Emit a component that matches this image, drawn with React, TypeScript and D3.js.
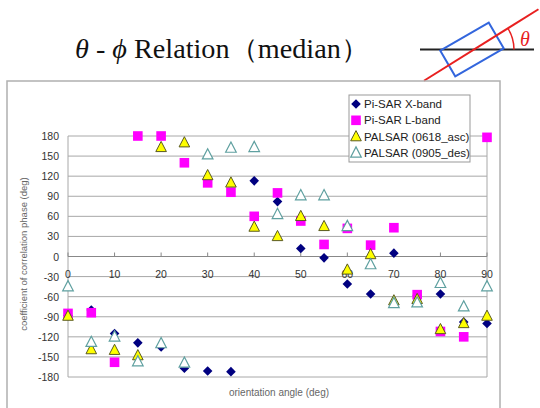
import React from 'react';
import * as d3 from 'd3';

// orientation angles (deg)
const angles = [0, 5, 10, 15, 20, 25, 30, 35, 40, 45, 50, 55, 60, 65, 70, 75, 80, 85, 90];

// median correlation phase (deg)
const piSarX = [-88, -80, -115, -129, -135, -167, -171, -172, 113, 82, 12, -2, -41, -56, 5, -58, -56, -98, -100];
const piSarL = [-85, -84, -158, 180, 180, 140, 110, 96, 60, 95, 53, 18, 42, 17, 43, -57, -112, -120, 178];
const palsarAsc = [-89, -139, -140, -148, 163, 170, 121, 110, 44, 30, 60, 45, -20, 3, -66, -64, -109, -100, -89];
const palsarDes = [-45, -128, -120, -157, -130, -159, 152, 162, 163, 63, 91, 91, 45, -12, -70, -69, -40, -75, -45];

const seriesNames = ['Pi-SAR X-band', 'Pi-SAR L-band', 'PALSAR (0618_asc)', 'PALSAR (0905_des)'];
const yTicks = [180, 150, 120, 90, 60, 30, 0, -30, -60, -90, -120, -150, -180];
const xTicks = [0, 10, 20, 30, 40, 50, 60, 70, 80, 90];

const sans = '"Liberation Sans", Arial, sans-serif';
const serif = '"Liberation Serif", "Times New Roman", serif';

const Marker = ({ kind, x, y }: { kind: number; x: number; y: number }) => {
  if (kind === 0) {
    return <path d={`M${x},${y - 4.8}L${x + 4.8},${y}L${x},${y + 4.8}L${x - 4.8},${y}Z`} fill="#000080" />;
  }
  if (kind === 1) {
    return <rect x={x - 4.8} y={y - 4.8} width={9.6} height={9.6} fill="#ff00ff" />;
  }
  const tri = `M${x},${y - 6}L${x + 5.3},${y + 4.2}L${x - 5.3},${y + 4.2}Z`;
  if (kind === 2) return <path d={tri} fill="#ffff00" stroke="#5a5a20" strokeWidth={1} />;
  return <path d={tri} fill="#ffffff" stroke="#5fa0a0" strokeWidth={1.2} />;
};

export default function App() {
  const W = 540, H = 408;
  const x = d3.scaleLinear().domain([0, 90]).range([68, 487]);
  const y = d3.scaleLinear().domain([-180, 180]).range([377, 136]);
  const all = [piSarX, piSarL, palsarAsc, palsarDes];

  // icon: reference line, red oriented line, rotated box
  const cy = 49.5;
  const ang = 32;
  const rad = (ang * Math.PI) / 180;
  const cx = 474;
  const r = 40;
  const arc = d3.arc()({ innerRadius: r, outerRadius: r, startAngle: Math.PI / 2 - rad, endAngle: Math.PI / 2 }) as string;

  return (
    <svg width={W} height={H} style={{ position: 'absolute', left: 0, top: 0, background: '#fff' }}>
      {/* title */}
      <text x={75} y={58} fontFamily={serif} fontSize={27} fill="#111" textLength={294} lengthAdjust="spacingAndGlyphs">
        <tspan fontStyle="italic">θ</tspan> - <tspan fontStyle="italic">ϕ</tspan> Relation（median）
      </text>

      {/* angle icon */}
      <line x1={420} y1={cy} x2={534} y2={cy} stroke="#222" strokeWidth={2} />
      <g transform={`translate(472,49.5) rotate(${-ang + 2})`}>
        <rect x={-28} y={-15} width={56} height={30} fill="none" stroke="#3366dd" strokeWidth={2} />
      </g>
      <line
        x1={cx - 59 * Math.cos(rad)}
        y1={cy + 59 * Math.sin(rad)}
        x2={cx + 76 * Math.cos(rad)}
        y2={cy - 76 * Math.sin(rad)}
        stroke="#e82020"
        strokeWidth={2}
      />
      <path d={arc} transform={`translate(${cx},${cy})`} fill="none" stroke="#e82020" strokeWidth={1.5} />
      <text x={520} y={46} fontFamily={serif} fontStyle="italic" fontSize={20} fill="#e82020">θ</text>

      {/* chart frame */}
      <rect x={7} y={81} width={493} height={330} fill="none" stroke="#b0b0b0" strokeWidth={1.5} />

      {/* gridlines */}
      {yTicks.map((t) => (
        <line key={t} x1={x(0)} x2={x(90)} y1={y(t)} y2={y(t)} stroke="#a8a8a8" strokeWidth={1} />
      ))}
      <line x1={x(0)} x2={x(0)} y1={y(180)} y2={y(-180)} stroke="#a8a8a8" />
      <line x1={x(90)} x2={x(90)} y1={y(180)} y2={y(-180)} stroke="#a8a8a8" />

      {/* x axis at zero */}
      <line x1={x(0)} x2={x(90)} y1={y(0)} y2={y(0)} stroke="#888" strokeWidth={1} />
      {xTicks.map((t) => (
        <line key={t} x1={x(t)} x2={x(t)} y1={y(0) - 4} y2={y(0)} stroke="#888" />
      ))}

      {/* y tick labels */}
      {yTicks.map((t) => (
        <text key={t} x={59} y={y(t) + 4} textAnchor="end" fontFamily={sans} fontSize={10.5} fill="#333">
          {t}
        </text>
      ))}
      {/* x tick labels */}
      {xTicks.map((t) => (
        <text key={t} x={x(t)} y={y(0) + 21} textAnchor="middle" fontFamily={sans} fontSize={10.5} fill="#333">
          {t}
        </text>
      ))}

      {/* axis titles */}
      <text transform="translate(27,254) rotate(-90)" textAnchor="middle" fontFamily={sans} fontSize={9.5} fill="#666">
        coefficient of correlation phase (deg)
      </text>
      <text x={279} y={396} textAnchor="middle" fontFamily={sans} fontSize={10} fill="#666">
        orientation angle (deg)
      </text>

      {/* points */}
      {all.map((vals, si) => (
        <g key={si}>
          {vals.map((v, i) => (v == null ? null : <Marker key={i} kind={si} x={x(angles[i])} y={y(v)} />))}
        </g>
      ))}

      {/* legend */}
      <rect x={349} y={95} width={121} height={67} fill="#fff" stroke="#999" strokeWidth={1} />
      {seriesNames.map((n, i) => (
        <g key={n}>
          <Marker kind={i} x={356} y={104 + i * 16.3} />
          <text x={364} y={108 + i * 16.3} fontFamily={sans} fontSize={11.5} fill="#222">
            {n}
          </text>
        </g>
      ))}
    </svg>
  );
}
